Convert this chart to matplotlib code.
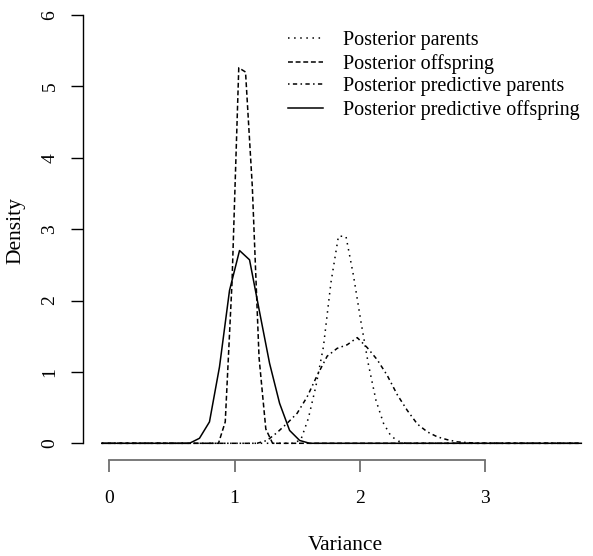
import matplotlib
matplotlib.use('Agg')
import matplotlib.pyplot as plt

# density curves
parents_x = [-0.06, 1.47, 1.53, 1.59, 1.65, 1.71, 1.77, 1.83, 1.89, 1.95, 2.01,
             2.07, 2.13, 2.19, 2.25, 2.31, 2.37, 3.77]
parents_y = [0, 0, 0.05, 0.35, 0.8, 1.35, 2.25, 2.9, 2.9, 2.35, 1.7,
             1.1, 0.6, 0.28, 0.1, 0.03, 0, 0]

offspring_x = [-0.06, 0.872, 0.926, 0.98, 1.034, 1.088, 1.142, 1.196, 1.25, 1.304, 3.77]
offspring_y = [0, 0, 0.3, 2.25, 5.26, 5.20, 3.6, 1.2, 0.2, 0, 0]

pred_parents_x = [-0.06, 1.18, 1.26, 1.34, 1.42, 1.50, 1.58, 1.66, 1.74, 1.82, 1.90,
                  1.98, 2.06, 2.14, 2.22, 2.30, 2.38, 2.46, 2.54, 2.62, 2.70,
                  2.78, 2.86, 2.94, 3.77]
pred_parents_y = [0, 0, 0.04, 0.15, 0.28, 0.42, 0.65, 0.95, 1.22, 1.33, 1.38,
                  1.48, 1.34, 1.17, 0.95, 0.68, 0.46, 0.27, 0.16, 0.09, 0.05,
                  0.02, 0.01, 0, 0]

pred_offspring_x = [-0.06, 0.64, 0.72, 0.80, 0.88, 0.96, 1.04, 1.12, 1.20, 1.28,
                    1.36, 1.44, 1.52, 1.60, 3.77]
pred_offspring_y = [0, 0, 0.07, 0.30, 1.07, 2.14, 2.70, 2.57, 1.84, 1.12,
                    0.56, 0.18, 0.04, 0, 0]

labels = ['Posterior parents', 'Posterior offspring',
          'Posterior predictive parents', 'Posterior predictive offspring']
x_ticks = [0, 1, 2, 3]
y_ticks = [0, 1, 2, 3, 4, 5, 6]

plt.rcParams['font.family'] = ['Liberation Serif', 'DejaVu Serif']

W, H = 593, 556
fig = plt.figure(figsize=(W / 100, H / 100), dpi=100)

# plot region in pixels (R style, slightly wider than the picture)
left_px, right_px, bottom_px, top_px = 82.7, 605, 460, 0
ax = fig.add_axes([left_px / W, 1 - bottom_px / H,
                   (right_px - left_px) / W, (bottom_px - top_px) / H])
ax.set_xlim(-0.2125, 3.959)
ax.set_ylim(-0.234, 6.209)

lw = 1.1
ax.plot(parents_x, parents_y, color='black', lw=lw, linestyle=(0, (1, 3)), label=labels[0])
ax.plot(offspring_x, offspring_y, color='black', lw=lw, linestyle=(0, (3.2, 1.8)), label=labels[1])
ax.plot(pred_parents_x, pred_parents_y, color='black', lw=lw,
        linestyle=(0, (1, 2.2, 2.8, 2.2)), label=labels[2])
ax.plot(pred_offspring_x, pred_offspring_y, color='black', lw=lw, linestyle='-', label=labels[3])

# R-like axes
for s in ['top', 'right']:
    ax.spines[s].set_visible(False)
ax.spines['left'].set_bounds(0, 6)
ax.spines['bottom'].set_bounds(0, 3)
ax.spines['bottom'].set_color('#707070')
ax.spines['left'].set_linewidth(1.0)
ax.spines['bottom'].set_linewidth(1.3)

ax.set_xticks(x_ticks)
ax.set_yticks(y_ticks)
ax.set_xticklabels([str(t) for t in x_ticks])
ax.set_yticklabels([str(t) for t in y_ticks])
ax.tick_params(axis='y', length=9, width=1.0, direction='out', pad=14.5, labelsize=14)
ax.tick_params(axis='x', length=8.6, width=1.3, direction='out', pad=13,
               labelsize=14, color='#707070')
for t in ax.get_yticklabels():
    t.set_rotation(90)
    t.set_ha('center')
    t.set_va('center')

fig.text(16 / W, 1 - 231 / H, 'Density', rotation=90, ha='center', va='center', fontsize=15.5)
fig.text(345.5 / W, 1 - 546 / H, 'Variance', ha='center', va='center', fontsize=15.5)

ax.legend(loc='upper left', bbox_to_anchor=(288 / W, 1 - 31 / H),
          bbox_transform=fig.transFigure, frameon=False, fontsize=14.5,
          handlelength=1.75, handletextpad=1.0, labelspacing=0.18,
          borderpad=0, borderaxespad=0)

fig.savefig('out.png', dpi=100)
